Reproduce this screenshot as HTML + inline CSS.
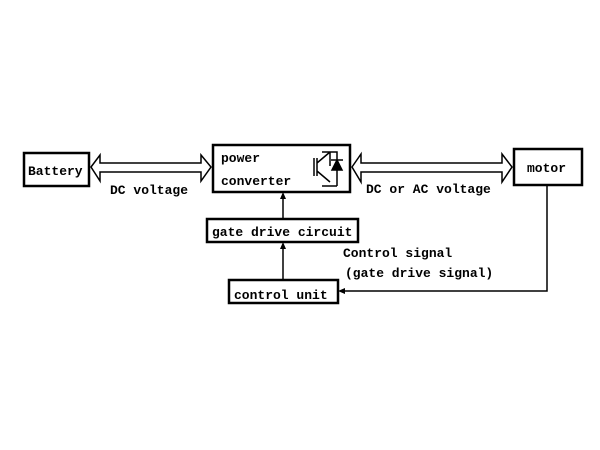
<!DOCTYPE html>
<html><head><style>body{margin:0;background:#fff}svg{display:block}</style></head><body>
<svg width="600" height="450" viewBox="0 0 600 450" xmlns="http://www.w3.org/2000/svg" font-family="Liberation Mono, monospace" font-size="13" font-weight="bold" fill="#000">
<g fill="none" stroke="#000" stroke-width="2.5">
<rect x="24" y="153" width="65" height="33"/>
<rect x="213" y="145" width="137" height="47"/>
<rect x="207" y="219" width="151" height="23"/>
<rect x="229" y="280" width="109" height="23"/>
<rect x="514" y="149" width="68" height="36"/>
</g>
<g fill="none" stroke="#000" stroke-width="1.5">
<path d="M91 167 L100 155 L100 163 L201 163 L201 155 L211 167 L201 181 L201 172 L100 172 L100 181 Z"/>
<path d="M352 167 L361 154 L361 163 L502 163 L502 154 L512 167 L502 182 L502 172 L361 172 L361 182 Z"/>
<path d="M283 219 V196 M283 279 V246 M547 185 V291 H342"/>
<path d="M322 152 H337 V186 M330 152 V166 M322 186 H337 M317 158 V176 M314 158 V176 M317 163 L330 152 M317 171 L330 182"/>
</g>
<g stroke="#000" stroke-width="1.5">
<path d="M332 170 L337 160 L342 170 Z" fill="#000"/>
<path d="M331 160 H343"/>
</g>
<path d="M283 192 L280 199 L286 199 Z M283 242 L280 249 L286 249 Z M338 291 L345 288 L345 294 Z"/>
<text x="28" y="175">Battery</text>
<text x="221" y="162">power</text>
<text x="221" y="185">converter</text>
<text x="110" y="194">DC voltage</text>
<text x="366" y="193">DC or AC voltage</text>
<text x="527" y="172">motor</text>
<text x="212" y="236">gate drive circuit</text>
<text x="343" y="257">Control signal</text>
<text x="345" y="277">(gate drive signal)</text>
<text x="234" y="299">control unit</text>
</svg>
</body></html>
